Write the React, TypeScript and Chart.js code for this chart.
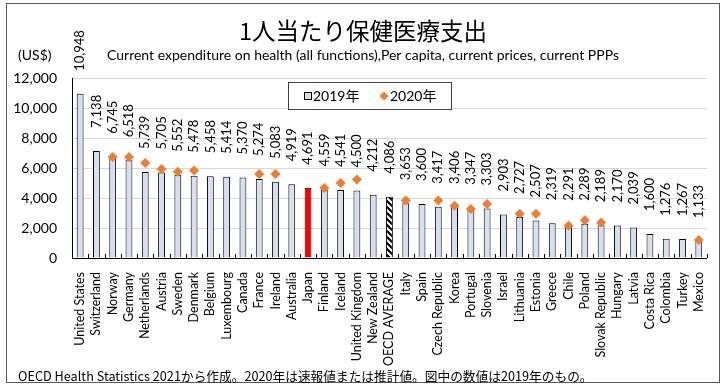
import React, { useEffect, useRef } from "react";
import { Chart, registerables } from "chart.js";

Chart.register(...registerables);

const categories = [
  "United States", "Switzerland", "Norway", "Germany", "Netherlands", "Austria", "Sweden",
  "Denmark", "Belgium", "Luxembourg", "Canada", "France", "Ireland", "Australia", "Japan",
  "Finland", "Iceland", "United Kingdom", "New Zealand", "OECD AVERAGE", "Italy", "Spain",
  "Czech Republic", "Korea", "Portugal", "Slovenia", "Israel", "Lithuania", "Estonia",
  "Greece", "Chile", "Poland", "Slovak Republic", "Hungary", "Latvia", "Costa Rica",
  "Colombia", "Turkey", "Mexico",
];

const values2019 = [
  10948, 7138, 6745, 6518, 5739, 5705, 5552, 5478, 5458, 5414, 5370, 5274, 5083, 4919, 4691,
  4559, 4541, 4500, 4212, 4086, 3653, 3600, 3417, 3406, 3347, 3303, 2903, 2727, 2507, 2319,
  2291, 2289, 2189, 2170, 2039, 1600, 1276, 1267, 1133,
];

const values2020: (number | null)[] = [
  null, null, 6740, 6740, 6330, 5930, 5750, 5830, null, null, null, 5600, 5600, null, null,
  4660, 5000, 5240, null, null, 3840, null, 3840, 3490, 3270, 3600, null, 2950, 2950, null,
  2150, 2510, 2370, null, null, null, null, null, 1200,
];

const yTicks = [0, 2000, 4000, 6000, 8000, 10000, 12000];

const TITLE = "1人当たり保健医療支出";
const SUBTITLE = "Current expenditure on health (all functions),Per capita, current prices, current PPPs";
const UNIT = "(US$)";
const FOOTER = "OECD Health Statistics 2021から作成。2020年は速報値または推計値。図中の数値は2019年のもの。";
const LEGEND_2019 = "2019年";
const LEGEND_2020 = "2020年";

const BAR_FILL = "#D6DEF0";
const JAPAN_FILL = "#FF0000";
const ORANGE = "#ED7D31";
const LATIN = "Lato, 'Noto Sans CJK JP', sans-serif";
const CJK = "'Noto Sans CJK JP', sans-serif";

function makeHatch(): CanvasPattern | string {
  const c = document.createElement("canvas");
  c.width = 6;
  c.height = 6;
  const g = c.getContext("2d");
  if (!g) return "#000";
  g.fillStyle = "#fff";
  g.fillRect(0, 0, 6, 6);
  g.strokeStyle = "#000";
  g.lineWidth = 2.2;
  g.beginPath();
  g.moveTo(-1, -1);
  g.lineTo(7, 7);
  g.moveTo(-4, 2);
  g.lineTo(4, 10);
  g.moveTo(2, -4);
  g.lineTo(10, 4);
  g.stroke();
  const p = g.createPattern(c, "repeat");
  return p || "#000";
}

const overlay = {
  id: "overlay",
  beforeDraw(chart: any) {
    const ctx = chart.ctx;
    ctx.save();
    ctx.fillStyle = "#fff";
    ctx.fillRect(0, 0, chart.width, chart.height);
    ctx.restore();
  },
  afterDraw(chart: any) {
    const ctx = chart.ctx as CanvasRenderingContext2D;
    const xs = chart.scales.x;
    const ys = chart.scales.y;
    const area = chart.chartArea;
    ctx.save();

    // outer frame
    ctx.strokeStyle = "#595959";
    ctx.lineWidth = 1;
    ctx.strokeRect(6.5, 3.5, 713, 379);

    // title
    ctx.fillStyle = "#000";
    ctx.textBaseline = "middle";
    ctx.textAlign = "center";
    ctx.font = `23.5px ${CJK}`;
    ctx.fillText(TITLE, 363, 31);

    // subtitle
    ctx.font = `14px ${LATIN}`;
    ctx.textAlign = "left";
    ctx.fillText(SUBTITLE, 107, 55, 514);

    // unit
    ctx.font = `14px ${LATIN}`;
    ctx.fillText(UNIT, 18, 55);

    // x boundary ticks (inward)
    const n = categories.length;
    ctx.strokeStyle = "#000";
    ctx.lineWidth = 1;
    ctx.beginPath();
    for (let i = 0; i <= n; i++) {
      const x = Math.round(area.left + (i * (area.right - area.left)) / n) + 0.5;
      ctx.moveTo(x, area.bottom);
      ctx.lineTo(x, area.bottom - 4);
    }
    ctx.stroke();

    // data labels
    ctx.fillStyle = "#000";
    ctx.font = `13px ${LATIN}`;
    ctx.textAlign = "left";
    ctx.textBaseline = "middle";
    for (let i = 0; i < n; i++) {
      const x = xs.getPixelForValue(i);
      const y = ys.getPixelForValue(values2019[i]) - 23;
      ctx.save();
      ctx.translate(x, y);
      ctx.rotate(-Math.PI / 2);
      ctx.fillText(values2019[i].toLocaleString("en-US"), 0, 0);
      ctx.restore();
    }

    // legend
    ctx.fillStyle = "#fff";
    ctx.fillRect(288, 82, 163, 27);
    ctx.strokeStyle = "#404040";
    ctx.lineWidth = 1;
    ctx.strokeRect(288.5, 82.5, 163, 27);
    ctx.fillStyle = BAR_FILL;
    ctx.fillRect(304.5, 92.5, 7, 7);
    ctx.strokeStyle = "#000";
    ctx.strokeRect(304.5, 92.5, 7, 7);
    ctx.fillStyle = "#000";
    ctx.font = `14px ${LATIN}`;
    ctx.fillText(LEGEND_2019, 313, 96);
    ctx.fillStyle = ORANGE;
    ctx.beginPath();
    ctx.moveTo(384, 91.5);
    ctx.lineTo(388.5, 96);
    ctx.lineTo(384, 100.5);
    ctx.lineTo(379.5, 96);
    ctx.closePath();
    ctx.fill();
    ctx.fillStyle = "#000";
    ctx.fillText(LEGEND_2020, 390, 96);

    // footer
    ctx.font = `12.7px ${CJK}`;
    ctx.fillText(FOOTER, 18, 376);

    ctx.restore();
  },
};

export default function App() {
  const ref = useRef<HTMLCanvasElement | null>(null);

  useEffect(() => {
    if (!ref.current) return;
    const hatch = makeHatch();
    const fills = categories.map((c) =>
      c === "Japan" ? JAPAN_FILL : c === "OECD AVERAGE" ? hatch : BAR_FILL
    );
    const chart = new Chart(ref.current, {
      type: "bar",
      data: {
        labels: categories,
        datasets: [
          {
            type: "line",
            label: LEGEND_2020,
            data: values2020,
            showLine: false,
            pointStyle: "rectRot",
            pointRadius: 5,
            pointBackgroundColor: ORANGE,
            pointBorderColor: ORANGE,
            pointBorderWidth: 0,
            order: 0,
          } as any,
          {
            type: "bar",
            label: LEGEND_2019,
            data: values2019,
            backgroundColor: fills as any,
            borderColor: "#000",
            borderWidth: 1,
            borderSkipped: "bottom",
            barPercentage: 0.42,
            categoryPercentage: 1,
            order: 1,
          },
        ],
      },
      options: {
        responsive: false,
        animation: false,
        devicePixelRatio: 1,
        layout: { padding: { top: 78, left: 0, right: 17, bottom: 0 } },
        plugins: {
          legend: { display: false },
          title: { display: false },
          tooltip: { enabled: false },
        },
        scales: {
          x: {
            offset: true,
            grid: { display: false, drawTicks: false },
            border: { display: true, color: "#000", width: 1 },
            ticks: {
              autoSkip: false,
              maxRotation: 90,
              minRotation: 90,
              padding: 14,
              color: "#000",
              font: { family: LATIN, size: 12.5 },
            },
            afterFit(scale: any) {
              scale.height = 130;
            },
          },
          y: {
            min: 0,
            max: 12000,
            afterBuildTicks(scale: any) {
              scale.ticks = yTicks.map((v) => ({ value: v }));
            },
            grid: { color: "#D9D9D9", lineWidth: 1, drawTicks: false },
            border: { display: true, color: "#000", width: 1 },
            ticks: {
              padding: 15,
              color: "#000",
              font: { family: LATIN, size: 14 },
              callback: (v: any) => Number(v).toLocaleString("en-US"),
            },
            afterFit(scale: any) {
              scale.width = 72;
            },
          },
        },
      },
      plugins: [overlay],
    });
    return () => chart.destroy();
  }, []);

  return (
    <div style={{ position: "absolute", left: 0, top: 0, width: 728, height: 388 }}>
      <canvas ref={ref} width={728} height={388} style={{ width: 728, height: 388, display: "block" }} />
    </div>
  );
}
